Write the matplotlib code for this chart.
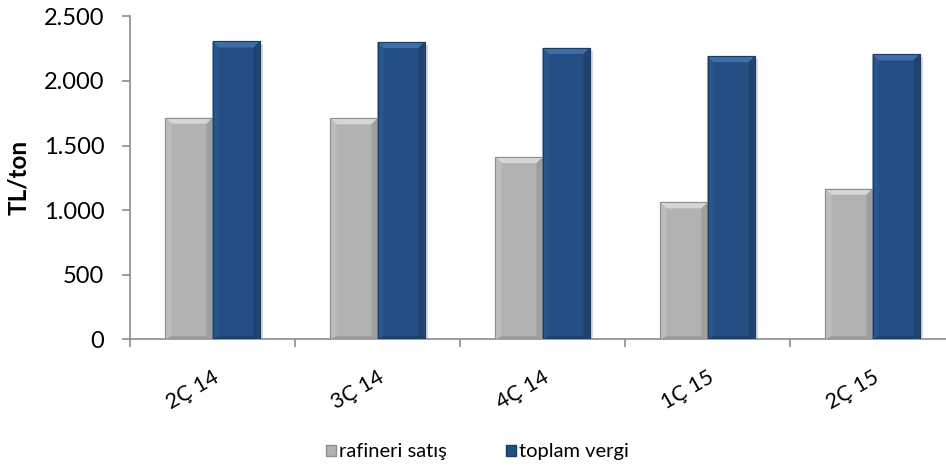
import matplotlib
matplotlib.use("Agg")
import matplotlib.pyplot as plt
from matplotlib.patches import Polygon, Patch
from matplotlib.ticker import FuncFormatter, FixedLocator
import numpy as np

categories = ["2Ç 14", "3Ç 14", "4Ç 14", "1Ç 15", "2Ç 15"]
rafineri_satis = [1715, 1710, 1410, 1060, 1165]
toplam_vergi = [2305, 2300, 2255, 2190, 2205]
series_names = ["rafineri satış", "toplam vergi"]

plt.rcParams['font.family'] = ['Lato', 'DejaVu Sans']

W, H = 946, 470
fig = plt.figure(figsize=(W / 100, H / 100), dpi=100)
ax = fig.add_axes([130 / W, (H - 339.3) / H, 825 / W, 323 / H])

x = np.arange(len(categories))
bw = 0.285
gray, blue = "#B2B2B2", "#254F84"
gray_edge, blue_edge = "#8E8E8E", "#1B3B63"

b1 = ax.bar(x - bw / 2, rafineri_satis, bw, color=gray, edgecolor=gray_edge, linewidth=0.8, zorder=3)
b2 = ax.bar(x + bw / 2, toplam_vergi, bw, color=blue, edgecolor=blue_edge, linewidth=0.8, zorder=3)

ax.set_xlim(-0.5, len(categories) - 0.5)
ax.set_ylim(0, 2500)

# bevel effect built from each bar's geometry
fig.canvas.draw()
inv = ax.transData.inverted()
p0 = inv.transform((0, 0))
p1 = inv.transform((6, 6))
dx, dy = p1[0] - p0[0], p1[1] - p0[1]
sx = (inv.transform((3, 0))[0] - p0[0])

def bevel(container, top_c, left_c, right_c, bot_c, shadow_c):
    for r in container.patches:
        x0, w, h = r.get_x(), r.get_width(), r.get_height()
        x1 = x0 + w
        ax.add_patch(Polygon([(x0 + sx, 0), (x1 + sx, 0), (x1 + sx, h - dy * 0.5), (x0 + sx, h - dy * 0.5)],
                             closed=True, facecolor=shadow_c, edgecolor='none', alpha=0.3, zorder=2))
        ax.add_patch(Polygon([(x0, h), (x1, h), (x1 - dx, h - dy), (x0 + dx, h - dy)],
                             closed=True, facecolor=top_c, edgecolor='none', zorder=4))
        ax.add_patch(Polygon([(x0, h), (x0 + dx, h - dy), (x0 + dx, dy * 0.5), (x0, 0)],
                             closed=True, facecolor=left_c, edgecolor='none', zorder=4))
        ax.add_patch(Polygon([(x1, h), (x1 - dx, h - dy), (x1 - dx, dy * 0.5), (x1, 0)],
                             closed=True, facecolor=right_c, edgecolor='none', zorder=4))
        ax.add_patch(Polygon([(x0, 0), (x1, 0), (x1 - dx, dy * 0.5), (x0 + dx, dy * 0.5)],
                             closed=True, facecolor=bot_c, edgecolor='none', zorder=4))
        ax.add_patch(Polygon([(x0, 0), (x1, 0), (x1, h), (x0, h)], closed=True,
                             facecolor='none', edgecolor=r.get_edgecolor(), linewidth=0.8, zorder=5))

bevel(b1, "#D6D6D6", "#BDBDBD", "#9E9E9E", "#9A9A9A", "#888888")
bevel(b2, "#3E6DA8", "#2A5690", "#1F426F", "#1E3F6A", "#888888")

# axes styling
for s in ["top", "right"]:
    ax.spines[s].set_visible(False)
axis_c = "#8C8C8C"
ax.spines["left"].set_color(axis_c)
ax.spines["bottom"].set_color(axis_c)
ax.spines["left"].set_linewidth(1.2)
ax.spines["bottom"].set_linewidth(1.2)

ax.yaxis.set_major_locator(FixedLocator([0, 500, 1000, 1500, 2000, 2500]))
ax.yaxis.set_major_formatter(FuncFormatter(lambda v, p: f"{int(v):,}".replace(",", ".")))
ax.tick_params(axis="y", direction="out", length=5.5, width=1.2, color=axis_c, labelsize=17, pad=13)

ax.set_xticks(np.arange(len(categories) + 1) - 0.5)
ax.set_xticklabels([])
ax.tick_params(axis="x", which="major", direction="out", length=5.5, width=1.2, color=axis_c)
ax.set_xticks(x, minor=True)
ax.set_xticklabels(categories, minor=True, rotation=30, ha="right", rotation_mode="anchor", fontsize=15.5)
ax.tick_params(axis="x", which="minor", length=0, pad=20)

ax.set_ylabel("TL/ton", fontsize=17.5, fontweight="bold")
ax.yaxis.set_label_coords((30 - 130) / 825, (339.3 - 177) / 323)

handles = [Patch(facecolor=gray, edgecolor=gray_edge), Patch(facecolor=blue, edgecolor=blue_edge)]
fig.legend(handles, series_names, loc="center", bbox_to_anchor=(477.5 / W, 1 - 452 / H), ncol=2,
           frameon=False, fontsize=14.5, handlelength=0.5, handleheight=0.5, handletextpad=0.15,
           columnspacing=2.9, borderpad=0, borderaxespad=0)

fig.savefig("out.png", dpi=100)
